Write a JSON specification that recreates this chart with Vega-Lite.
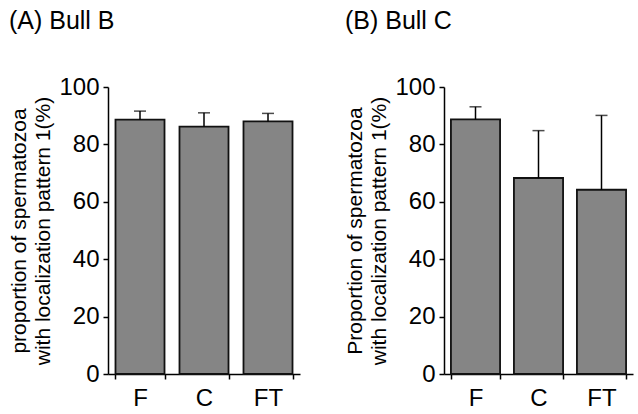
{
  "$schema": "https://vega.github.io/schema/vega-lite/v6.json",
  "padding": {"left": 8, "top": 9, "right": 5, "bottom": 5},
  "config": {
    "view": {"stroke": null},
    "font": "Liberation Sans",
    "concat": {"spacing": 44},
    "axis": {
      "grid": false,
      "domainColor": "black",
      "domainWidth": 1.5,
      "tickColor": "black",
      "tickWidth": 1.5,
      "tickSize": 5,
      "labelFontSize": 24,
      "labelColor": "black",
      "labelPadding": 4,
      "titleFontSize": 21,
      "titleFontWeight": "normal",
      "titleColor": "black",
      "titleLineHeight": 24
    },
    "title": {"fontSize": 25, "fontWeight": "normal", "color": "black", "anchor": "start", "frame": "bounds", "offset": 41}
  },
  "hconcat": [
    {
      "title": {"text": "(A) Bull B"},
      "width": 192,
      "height": 287,
      "data": {"values": [
        {"group": "F", "mean": 88.6, "upper": 91.6},
        {"group": "C", "mean": 86.2, "upper": 91.0},
        {"group": "FT", "mean": 88.0, "upper": 90.8}
      ]},
      "encoding": {
        "x": {"field": "group", "type": "nominal", "sort": ["F", "C", "FT"],
          "scale": {"paddingInner": 0.234, "paddingOuter": 0.117},
          "axis": {"title": null, "labelAngle": 0, "tickBand": "extent", "labelPadding": 7}}
      },
      "layer": [
        {"mark": {"type": "bar", "fill": "#858585", "stroke": "#111111", "strokeWidth": 1.8},
         "encoding": {"y": {"field": "mean", "type": "quantitative", "scale": {"domain": [0, 100]},
           "axis": {"values": [0, 20, 40, 60, 80, 100], "title": ["proportion of spermatozoa", "with localization pattern 1(%)"], "titlePadding": 5}}}},
        {"mark": {"type": "rule", "color": "black", "strokeWidth": 1.5},
         "encoding": {"y": {"field": "mean", "type": "quantitative"}, "y2": {"field": "upper"}}},
        {"mark": {"type": "tick", "color": "black", "size": 12, "thickness": 1.5},
         "encoding": {"y": {"field": "upper", "type": "quantitative"}}}
      ]
    },
    {
      "title": {"text": "(B) Bull C"},
      "width": 189,
      "height": 287,
      "data": {"values": [
        {"group": "F", "mean": 88.7, "upper": 93.1},
        {"group": "C", "mean": 68.3, "upper": 84.8},
        {"group": "FT", "mean": 64.2, "upper": 90.1}
      ]},
      "encoding": {
        "x": {"field": "group", "type": "nominal", "sort": ["F", "C", "FT"],
          "scale": {"paddingInner": 0.22, "paddingOuter": 0.11},
          "axis": {"title": null, "labelAngle": 0, "tickBand": "extent", "labelPadding": 7}}
      },
      "layer": [
        {"mark": {"type": "bar", "fill": "#858585", "stroke": "#111111", "strokeWidth": 1.8},
         "encoding": {"y": {"field": "mean", "type": "quantitative", "scale": {"domain": [0, 100]},
           "axis": {"values": [0, 20, 40, 60, 80, 100], "title": ["Proportion of spermatozoa", "with localization pattern 1(%)"], "titlePadding": 5}}}},
        {"mark": {"type": "rule", "color": "black", "strokeWidth": 1.5},
         "encoding": {"y": {"field": "mean", "type": "quantitative"}, "y2": {"field": "upper"}}},
        {"mark": {"type": "tick", "color": "black", "size": 12, "thickness": 1.5},
         "encoding": {"y": {"field": "upper", "type": "quantitative"}}}
      ]
    }
  ]
}
